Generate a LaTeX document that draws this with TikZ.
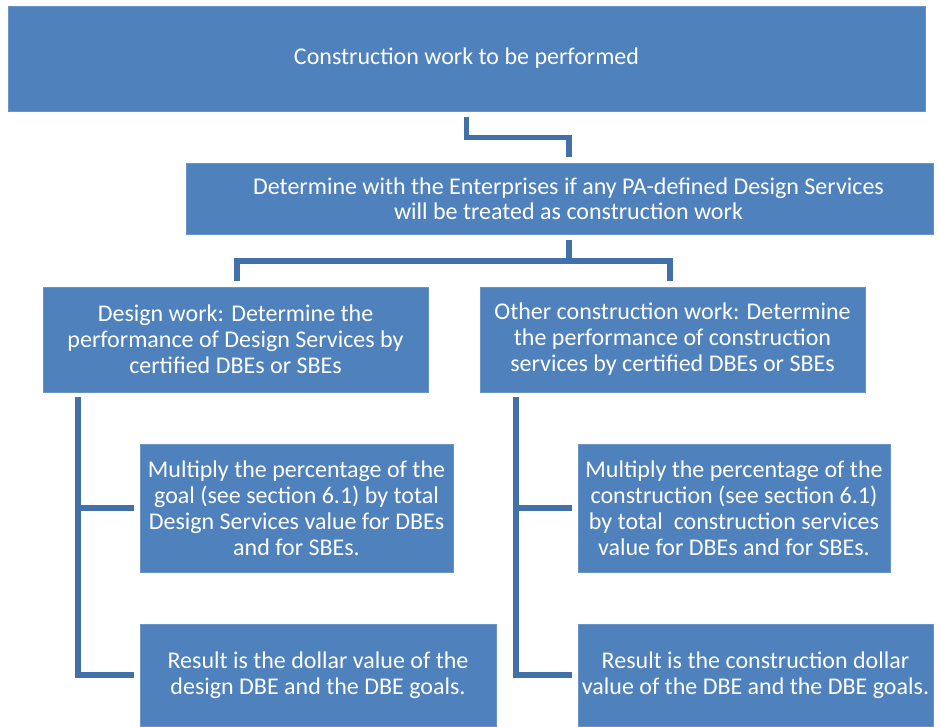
\documentclass[tikz,border=0pt]{standalone}
\usepackage{fontspec}
\setmainfont{Carlito}
\usetikzlibrary{calc}
\definecolor{boxblue}{RGB}{79,129,189}
\definecolor{lineblue}{RGB}{65,113,168}
\begin{document}
\begin{tikzpicture}[x=1pt,y=-1pt,
  box/.style={fill=boxblue,draw=boxblue!85!white,line width=0.6pt,text=white,
    align=center,inner sep=0pt,font=\fontsize{24}{26}\selectfont},
  conn/.style={draw=lineblue,line width=5.5pt}]
\useasboundingbox[fill=white] (0,0) rectangle (939,726);
\node[box,minimum width=917,minimum height=105] (top) at (466.5,58.5) {Construction work to be performed};
\node[box,minimum width=747,minimum height=71,font=\fontsize{24}{25}\selectfont] (second) at (559.5,198.5)
  {\hspace*{18pt}Determine with the Enterprises if any PA-defined Design Services\\\hspace*{18pt}will be treated as construction work};
\node[box,minimum width=385,minimum height=105] (left) at (235.5,339.5)
  {Design work: Determine the\\performance of Design Services by\\certified DBEs or SBEs};
\node[box,minimum width=385,minimum height=105] (right) at (672.5,339.5)
  {Other construction work: Determine\\the performance of construction\\services by certified DBEs or SBEs};
\node[box,minimum width=313,minimum height=128] (ls1) at (296.5,508)
  {Multiply the percentage of the\\goal (see section 6.1) by total\\Design Services value for DBEs\\and for SBEs.};
\node[box,minimum width=312,minimum height=128] (rs1) at (734,508)
  {Multiply the percentage of the\\construction (see section 6.1)\\by total\ \ construction services\\value for DBEs and for SBEs.};
\node[box,minimum width=356,minimum height=102] (ls2) at (318,675)
  {Result is the dollar value of the\\design DBE and the DBE goals.};
\node[box,minimum width=355,minimum height=102] (rs2) at (755.5,675)
  {Result is the construction dollar\\value of the DBE and the DBE goals.};
% connector top -> second
\coordinate (a1) at (569,163);
\draw[conn,shorten <=6pt,shorten >=6pt] (top.south) -- ++(0,26) -| (a1);
% bracket second -> left/right
\coordinate (b0) at (569,234);
\coordinate (bm) at (569,261);
\coordinate (bl) at (237,287);
\coordinate (br) at (670,287);
\draw[conn,shorten <=6pt] (b0) -- (bm);
\draw[conn,shorten <=6pt,shorten >=6pt] (bl) |- (bm) -| (br);
% left tree
\coordinate (lv) at (78,392);
\draw[conn,shorten <=5pt,shorten >=6pt] (lv) |- (ls1.west);
\draw[conn,shorten <=5pt,shorten >=6pt] (lv) |- (ls2.west);
% right tree
\coordinate (rv) at (516,392);
\draw[conn,shorten <=5pt,shorten >=6pt] (rv) |- (rs1.west);
\draw[conn,shorten <=5pt,shorten >=6pt] (rv) |- (rs2.west);
\end{tikzpicture}
\end{document}
